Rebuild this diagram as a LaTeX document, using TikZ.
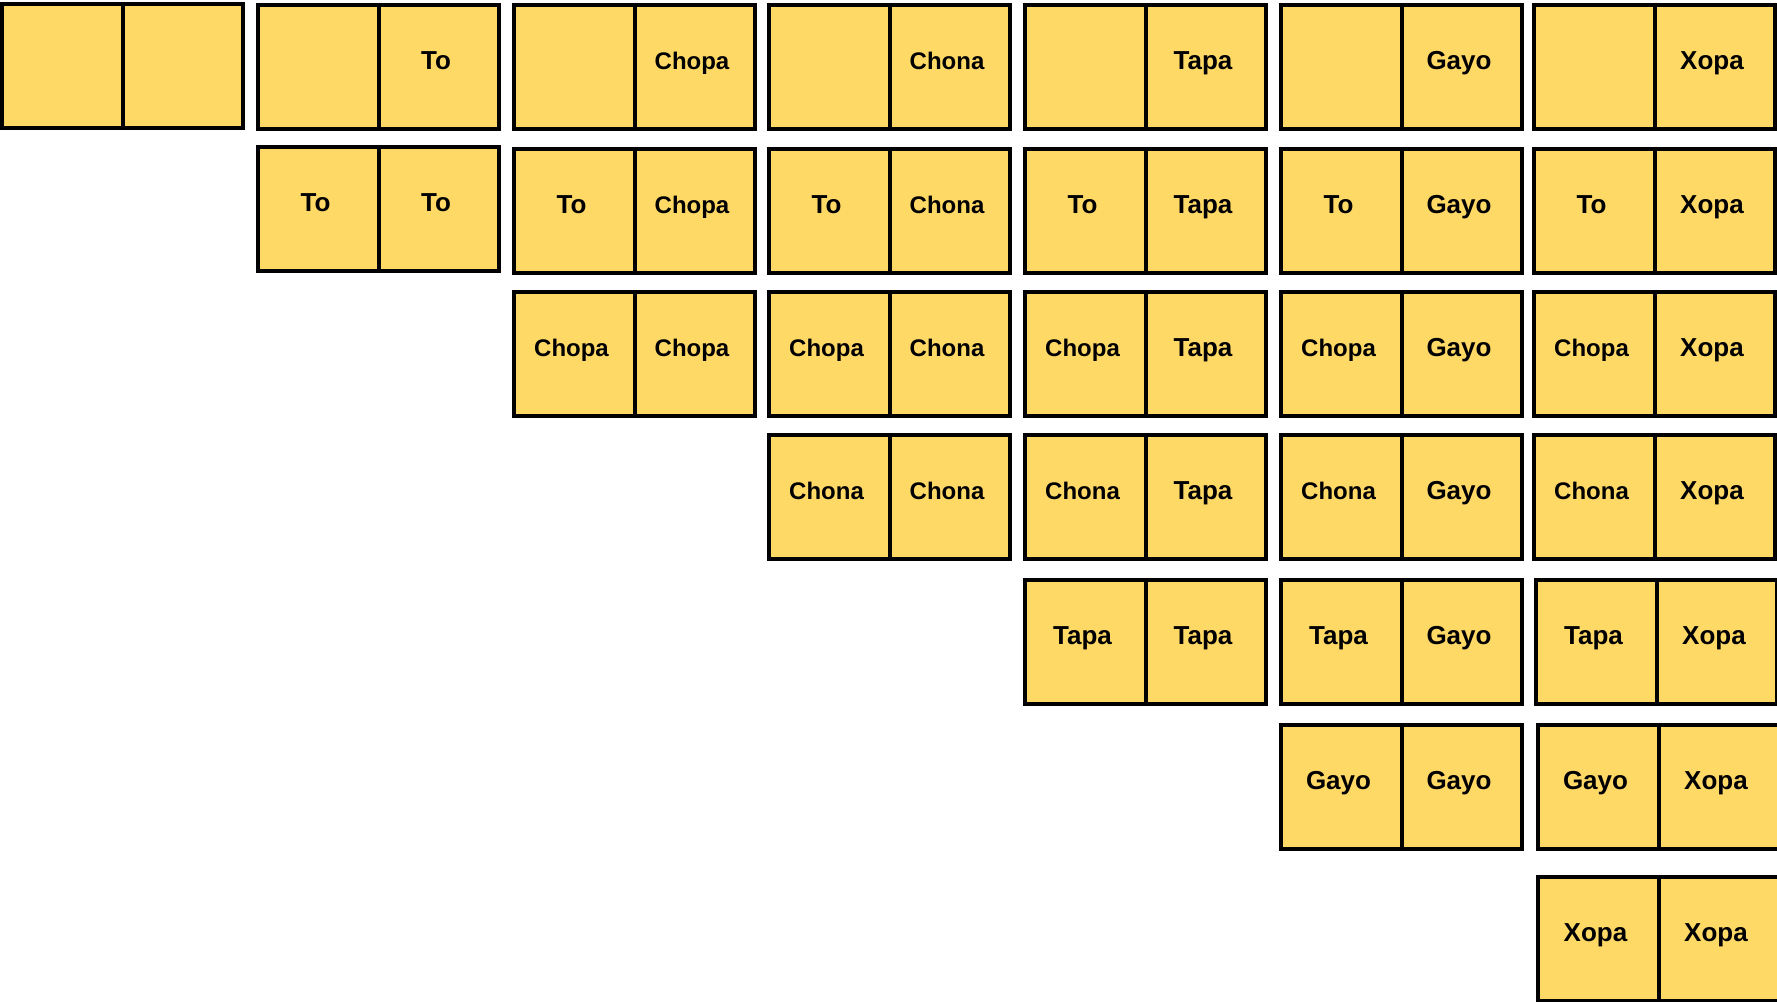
\documentclass[tikz,border=0pt]{standalone}
\usepackage{fontspec}
\setmainfont{Liberation Sans}
\definecolor{dyellow}{HTML}{FFD966}
% text sizes; the leading kern moves the label about 2.75px left of the half's centre
\newcommand\dLg{\fontsize{26}{30}\selectfont\kern-5.5pt}
\newcommand\dSm{\fontsize{24}{28}\selectfont\kern-5.5pt}
% #1 name, #2 x, #3 y (top-left outer corner, px), #4 left text, #5 right text
\newcommand\mkdomino[5]{%
  \node[halfcell] (#1L) at ({#2+62.25},{#3+64}) {#4};
  \node[halfcell] (#1R) at ({#2+182.75},{#3+64}) {#5};
}
\begin{document}
\begin{tikzpicture}[x=1pt,y=-1pt,
  halfcell/.style={draw=black, line width=4pt, fill=dyellow,
    minimum width=120.5pt, minimum height=124pt, inner sep=0pt, outer sep=0pt,
    text height=5.6pt, text depth=0pt, font=\bfseries}]
\useasboundingbox (0,0) rectangle (1777,1001);
% row 0
\mkdomino{d00}{0}{2}{}{}
\mkdomino{d01}{256}{3}{}{\dLg To}
\mkdomino{d02}{512}{3}{}{\dSm Chopa}
\mkdomino{d03}{767}{3}{}{\dSm Chona}
\mkdomino{d04}{1023}{3}{}{\dLg Tapa}
\mkdomino{d05}{1279}{3}{}{\dLg Gayo}
\mkdomino{d06}{1532}{3}{}{\dLg Xopa}
% row 1
\mkdomino{d11}{256}{145}{\dLg To}{\dLg To}
\mkdomino{d12}{512}{147}{\dLg To}{\dSm Chopa}
\mkdomino{d13}{767}{147}{\dLg To}{\dSm Chona}
\mkdomino{d14}{1023}{147}{\dLg To}{\dLg Tapa}
\mkdomino{d15}{1279}{147}{\dLg To}{\dLg Gayo}
\mkdomino{d16}{1532}{147}{\dLg To}{\dLg Xopa}
% row 2
\mkdomino{d22}{512}{290}{\dSm Chopa}{\dSm Chopa}
\mkdomino{d23}{767}{290}{\dSm Chopa}{\dSm Chona}
\mkdomino{d24}{1023}{290}{\dSm Chopa}{\dLg Tapa}
\mkdomino{d25}{1279}{290}{\dSm Chopa}{\dLg Gayo}
\mkdomino{d26}{1532}{290}{\dSm Chopa}{\dLg Xopa}
% row 3
\mkdomino{d33}{767}{433}{\dSm Chona}{\dSm Chona}
\mkdomino{d34}{1023}{433}{\dSm Chona}{\dLg Tapa}
\mkdomino{d35}{1279}{433}{\dSm Chona}{\dLg Gayo}
\mkdomino{d36}{1532}{433}{\dSm Chona}{\dLg Xopa}
% row 4
\mkdomino{d44}{1023}{578}{\dLg Tapa}{\dLg Tapa}
\mkdomino{d45}{1279}{578}{\dLg Tapa}{\dLg Gayo}
\mkdomino{d46}{1534}{578}{\dLg Tapa}{\dLg Xopa}
% row 5
\mkdomino{d55}{1279}{723}{\dLg Gayo}{\dLg Gayo}
\mkdomino{d56}{1536}{723}{\dLg Gayo}{\dLg Xopa}
% row 6
\mkdomino{d66}{1536}{875}{\dLg Xopa}{\dLg Xopa}
\end{tikzpicture}
\end{document}
